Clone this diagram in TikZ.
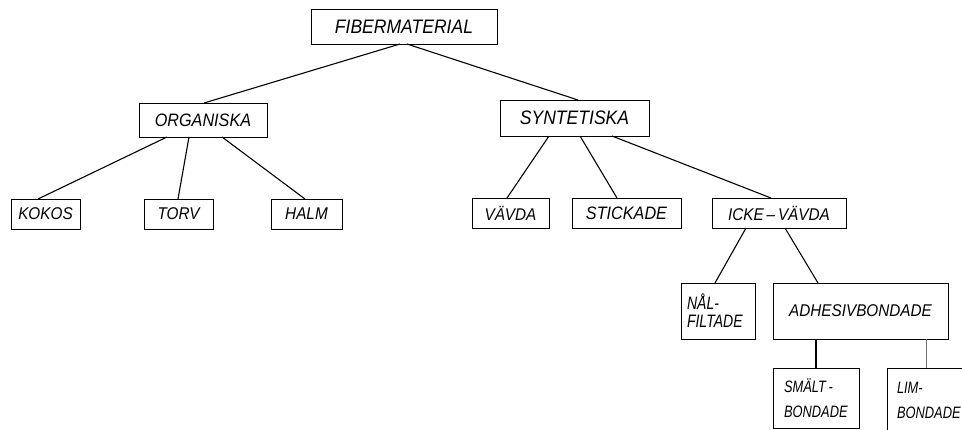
\documentclass[tikz,border=0pt]{standalone}
\usepackage{fontspec}
\setmainfont{Liberation Sans}
\newfontfamily\handfont[FakeStretch=0.9]{Liberation Sans}
\newfontfamily\handnarrow[FakeStretch=0.78]{Liberation Sans}
\begin{document}
\begin{tikzpicture}[x=1pt,y=-1pt,
  box/.style={draw,line width=1pt,inner sep=0pt,outer sep=0pt,font=\handfont\itshape\fontsize{#1}{#1}\selectfont},
  box/.default=17,
  mbox/.style 2 args={draw,line width=1pt,inner ysep=0pt,outer sep=0pt,align=left,font=\handnarrow\itshape\fontsize{#1}{#2}\selectfont},
  link/.style={line width=1.1pt},
  thin link/.style={line width=0.6pt,black!55}]
\useasboundingbox (0,0) rectangle (962,429);
\clip (0,0) rectangle (962,429);
% level 0
\node[box=19.5,minimum width=186,minimum height=35] (fib) at (404,26.5) {FIBERMATERIAL};
% level 1
\node[box=18,minimum width=128,minimum height=34] (org) at (203,120) {ORGANISKA};
\node[box=19.5,minimum width=149,minimum height=36] (syn) at (574.5,118) {SYNTETISKA};
% level 2
\node[box,minimum width=69,minimum height=30] (kokos) at (45.5,214) {KOKOS};
\node[box,minimum width=69,minimum height=30] (torv) at (178.5,214) {TORV};
\node[box,minimum width=71,minimum height=30] (halm) at (306.5,214) {HALM};
\node[box,minimum width=77,minimum height=30] (vavda) at (510.5,213) {VÄVDA};
\node[box=18,minimum width=109,minimum height=30] (stick) at (626.5,213) {STICKADE};
\node[box,minimum width=134,minimum height=30] (icke) at (779,213) {ICKE\,–\,VÄVDA};
% level 3
\node[mbox={18}{18},inner xsep=6pt,text width=62pt,minimum height=56] (nal) at (718,311) {NÅL-\\FILTADE};
\node[box,minimum width=175,minimum height=56] (adh) at (860.5,311) {ADHESIVBONDADE};
% level 4
\node[mbox={16.5}{25},inner xsep=11pt,text width=64pt,minimum height=60] (smalt) at (816,398) {SMÄLT\,-\\BONDADE};
\node[mbox={16.5}{25},inner xsep=10pt,text width=70pt,minimum height=64] (lim) at (932,400) {LIM-\\BONDADE};
% connectors
\draw[link] ([xshift=-4]fib.south) -- ([xshift=1]org.north);
\draw[link] ([xshift=3]fib.south) -- ([xshift=3.5]syn.north);
\draw[link] ([xshift=-36]org.south) -- ([xshift=-7.5]kokos.north);
\draw[link] ([xshift=-14]org.south) -- ([xshift=-0.5]torv.north);
\draw[link] ([xshift=19]org.south) -- ([xshift=-1.5]halm.north);
\draw[link] ([xshift=-25.5]syn.south) -- ([xshift=-3.5]vavda.north);
\draw[link] ([xshift=5.5]syn.south) -- ([xshift=-9.5]stick.north);
\draw[link] ([xshift=37.5]syn.south) -- ([xshift=-8]icke.north);
\draw[link] ([xshift=-33]icke.south) -- ([xshift=-3]nal.north);
\draw[link] ([xshift=6]icke.south) -- ([xshift=-42.5]adh.north);
\draw[link] ([xshift=-44.5]adh.south) -- (smalt.north);
\draw[thin link] ([xshift=65.5]adh.south) -- ([xshift=-6]lim.north);
\end{tikzpicture}
\end{document}
